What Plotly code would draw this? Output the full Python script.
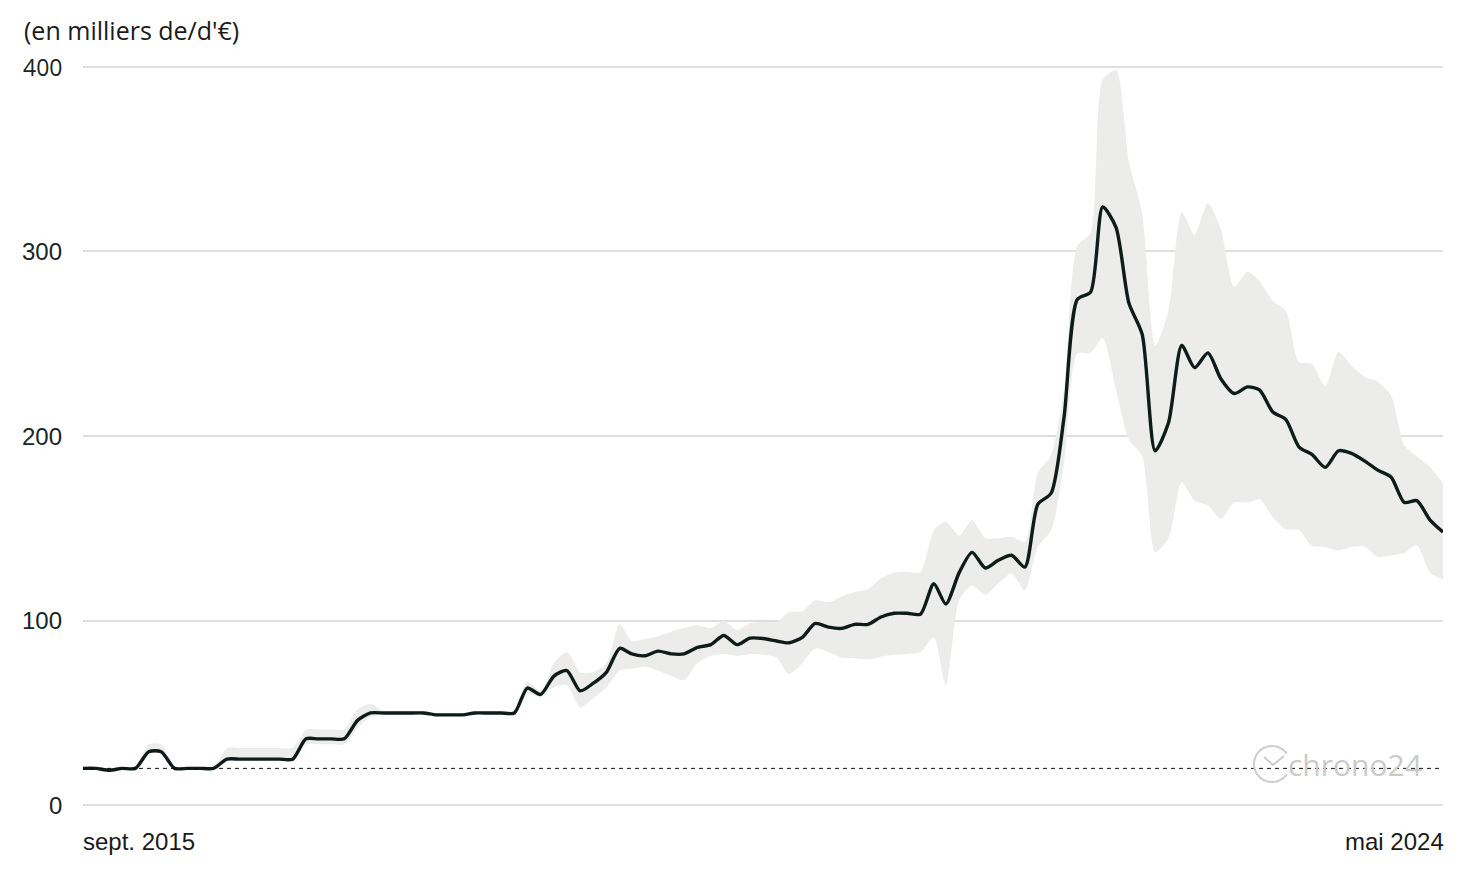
import math
import pandas as pd
import plotly.graph_objects as go

months = pd.date_range("2015-09-01", periods=105, freq="MS")

price = [20, 20, 19, 20, 20, 29, 29, 20, 20, 20,
         20, 25, 25, 25, 25, 25, 25, 36, 36, 36,
         36, 46, 50, 50, 50, 50, 50, 49, 49, 49,
         50, 50, 50, 50, 63.5, 60, 70, 73, 62, 66,
         72, 85, 82, 81, 83.5, 82, 82, 85.5, 87, 92,
         87, 90.5, 90.3, 89, 88, 91, 98.5, 96.5, 95.8, 98,
         98, 102, 104, 104, 103.5, 120, 109, 126, 137, 128.5,
         132.7, 135.4, 129, 163, 169, 210, 274, 278, 324, 313,
         272, 255, 192, 207, 249, 237, 245, 231, 223, 226.6,
         225, 213, 209, 194, 190, 183, 192, 190.6, 186.4, 181.5,
         177.8, 164, 165, 154.5, 148]

upper = [20.6, 20.6, 19.6, 20.6, 20.6, 33, 33, 20.6, 20.6, 20.6,
         20.6, 31, 31, 31, 31, 31, 31, 41, 41, 41,
         41, 52, 55, 51, 51, 51, 51, 50, 50, 50,
         51, 51, 51, 51, 67, 62, 77, 83, 72, 72,
         77, 98, 89, 90, 91.5, 94, 96, 97.5, 96, 100,
         95, 98.6, 99.3, 99.3, 104.7, 105, 111, 110, 113, 115.5,
         117, 123, 126, 126.4, 126.4, 149, 153.5, 146, 154.4, 144.6,
         144.6, 145.4, 142.6, 180, 189.6, 225, 303, 310, 393, 398,
         349, 320, 249, 268, 321, 309, 326, 312, 281, 289,
         284, 273, 268, 240, 239, 227, 245.6, 238, 232, 229.5,
         222, 195, 189, 183, 174.5]

lower = [19.4, 19.4, 18.4, 19.4, 19.4, 28, 28, 19.4, 19.4, 19.4,
         19.4, 25, 25, 25, 25, 25, 25, 33, 33, 33,
         33, 42, 48, 49.5, 49.5, 49.5, 49.5, 48.5, 48.5, 48.5,
         49.5, 49.5, 49.5, 49.5, 60, 59, 64, 65, 53, 58,
         64, 73, 74, 75, 73, 70, 67.7, 77, 81, 82,
         81, 82, 81.5, 80, 71, 77, 85, 83, 80, 79.5,
         79, 80.5, 81.5, 82, 83, 91, 65, 111, 119, 114,
         120, 125.6, 116.5, 140, 149, 185, 244.6, 245, 253, 225,
         198, 189, 137, 144.6, 175, 165, 162.5, 155, 164, 164,
         165.7, 156, 149.5, 149, 140.5, 139.8, 138, 140, 140, 134.5,
         135.4, 136.5, 141, 126, 122.4]

reference_level = 20
y_ticks = [0, 100, 200, 300, 400]
y_tick_labels = ["0", "100", "200", "300", "400"]
x_labels = ["sept. 2015", "mai 2024"]
y_title = "(en milliers de/d'€)"

# page geometry (the html body adds an 8px offset)
OFF = 8
W, H = 1470 - OFF, 876 - OFF
PL, PR, PT, PB = 83, 1443, 63, 809  # plot area in page pixels


def px(x):
    return (x - PL) / (PR - PL)


def py(y):
    return (PB - y) / (PB - PT)


fig = go.Figure()

fig.add_trace(go.Scatter(
    x=months, y=lower, mode="lines",
    line=dict(width=0, shape="spline", smoothing=0.7),
    hoverinfo="skip", showlegend=False))
fig.add_trace(go.Scatter(
    x=months, y=upper, mode="lines", fill="tonexty",
    fillcolor="#ececea",
    line=dict(width=0, shape="spline", smoothing=0.7),
    hoverinfo="skip", showlegend=False))

fig.add_shape(type="line", xref="paper", yref="y", x0=0, x1=1,
              y0=reference_level, y1=reference_level,
              line=dict(color="#111111", width=1, dash="4px,4px"), layer="above")

fig.add_trace(go.Scatter(
    x=months, y=price, mode="lines",
    line=dict(color="#0e1b1b", width=3.4, shape="spline", smoothing=0.7),
    hoverinfo="x+y", showlegend=False))

fig.update_layout(
    width=W, height=H,
    margin=dict(l=PL - OFF, r=OFF + W - PR, t=PT - OFF, b=OFF + H - PB, pad=0),
    paper_bgcolor="white", plot_bgcolor="white",
    font=dict(family="Liberation Sans", color="#1a1a1a"),
    xaxis=dict(range=[months[0], months[-1]], showgrid=False,
               showticklabels=False, zeroline=False, showline=False),
    yaxis=dict(range=[-2, 402], tickvals=y_ticks, showgrid=True,
               gridcolor="#dcdfdf", gridwidth=1.5, zeroline=False,
               showline=False, ticks="", showticklabels=False),
)

# y tick labels
for v, lab in zip(y_ticks, y_tick_labels):
    fam = "Open Sans" if v == 400 else "Liberation Sans"
    fig.add_annotation(x=px(64), xref="paper", y=v, yref="y", text=lab,
                       showarrow=False, xanchor="right", yanchor="middle",
                       font=dict(family=fam, size=24 if v != 400 else 23, color="#1a2424"))

# x labels
fig.add_annotation(x=months[0], xref="x", y=py(842), yref="paper",
                   text=x_labels[0], showarrow=False, xanchor="left", yanchor="middle",
                   xshift=-2,
                   font=dict(family="Liberation Sans", size=24, color="#1a1a1a"))
fig.add_annotation(x=months[-1], xref="x", y=py(842), yref="paper",
                   text=x_labels[1], showarrow=False, xanchor="right", yanchor="middle",
                   xshift=3,
                   font=dict(family="Liberation Sans", size=24, color="#1a1a1a"))

# axis title
fig.add_annotation(x=px(22), xref="paper", y=py(30), yref="paper", text=y_title,
                   showarrow=False, xanchor="left", yanchor="middle",
                   font=dict(family="Open Sans", size=25, color="#1a1a1a"))

# watermark logo
cx, cy, r = 1272, 764, 18
arc = []
for k in range(0, 61):
    a = math.radians(35 + k * (290 / 60))
    arc.append((cx + r * math.cos(a), cy - r * math.sin(a)))
path = "M " + " L ".join(f"{px(x):.5f},{py(y):.5f}" for x, y in arc)
fig.add_shape(type="path", xref="paper", yref="paper", path=path,
              line=dict(color="#cccccc", width=2), layer="above")
chev = [(1264, 757), (1273, 765), (1284, 756)]
fig.add_shape(type="path", xref="paper", yref="paper",
              path="M " + " L ".join(f"{px(x):.5f},{py(y):.5f}" for x, y in chev),
              line=dict(color="#cccccc", width=2), layer="above")
fig.add_annotation(x=px(1424), xref="paper", y=py(764), yref="paper",
                   text="chrono24", showarrow=False, xanchor="right", yanchor="middle",
                   font=dict(family="Open Sans", size=30, color="#cacaca"))

fig.write_html("out.html")
